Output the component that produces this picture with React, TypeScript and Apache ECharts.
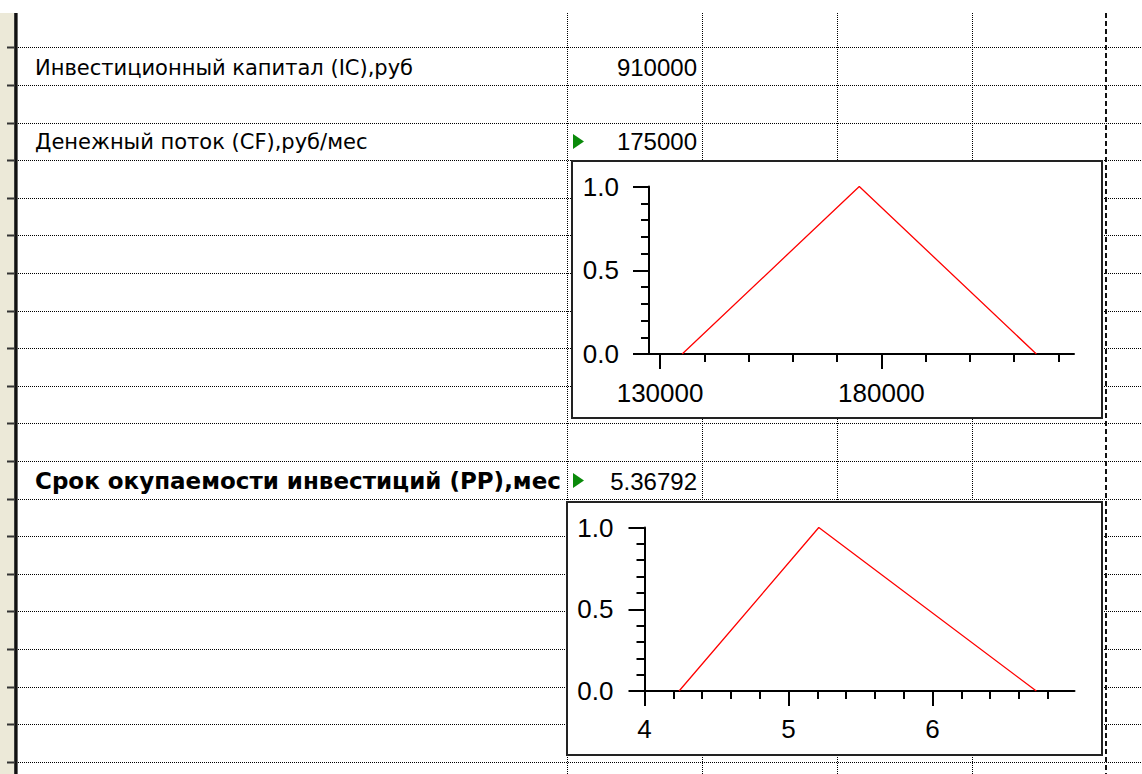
import React, { useEffect, useRef } from "react";
import * as echarts from "echarts";

// ---- data ----
const ROW_LABELS = [
  "Инвестиционный капитал (IC),руб",
  "Денежный поток (CF),руб/мес",
  "Срок окупаемости инвестиций (PP),мес",
];
const ROW_VALUES = ["910000", "175000", "5.36792"];

const CF_X = [135000, 175000, 215000];
const CF_MU = [0, 1, 0];
const CF_MAJOR = [130000, 180000];
const CF_MINOR = [140000, 150000, 160000, 170000, 190000, 200000, 210000, 220000];

const PP_X = [4.24, 5.21, 6.72];
const PP_MU = [0, 1, 0];
const PP_MAJOR = [4, 5, 6];
const PP_MINOR = [4.2, 4.4, 4.6, 4.8, 5.2, 5.4, 5.6, 5.8, 6.2, 6.4, 6.6, 6.8];

const W = 1142;
const H = 774;
const TOP = 13;
const LABEL_FONT = "DejaVu Sans";
const NUM_FONT = "Liberation Sans";

function buildGraphic() {
  const els: any[] = [];
  const rowLines: number[] = [];
  for (let k = 0; k < 20; k++) rowLines.push(Math.round(47.3 + 37.6 * k) + 0.5);
  // beige strip
  els.push({ type: "rect", z: 0, shape: { x: 0, y: TOP, width: 14, height: H - TOP }, style: { fill: "#ECE9D8" } });
  els.push({ type: "rect", z: 0, shape: { x: 14, y: TOP, width: 4, height: H - TOP }, style: { fill: "#6b6b6b" } });
  els.push({ type: "rect", z: 0, shape: { x: 14.5, y: TOP, width: 2.5, height: H - TOP }, style: { fill: "#111" } });
  rowLines.forEach((y) => {
    els.push({ type: "line", z: 0, shape: { x1: 7, y1: y, x2: 14, y2: y }, style: { stroke: "#333", lineWidth: 2 } });
    els.push({
      type: "line", z: 0,
      shape: { x1: 18, y1: y, x2: W, y2: y },
      style: { stroke: "#000", lineWidth: 1, lineDash: [1, 1] },
    });
  });
  [567.5, 702.5, 837.5, 972.5].forEach((x) => {
    els.push({
      type: "line", z: 0,
      shape: { x1: x, y1: TOP, x2: x, y2: H },
      style: { stroke: "#000", lineWidth: 1, lineDash: [1, 1] },
    });
  });
  // page break dashed line
  els.push({
    type: "line", z: 0,
    shape: { x1: 1106, y1: TOP, x2: 1106, y2: H },
    style: { stroke: "#111", lineWidth: 2, lineDash: [5, 3] },
  });
  // chart boxes
  els.push({ type: "rect", z: 1, shape: { x: 572, y: 161, width: 530, height: 257 }, style: { fill: "#fff", stroke: "#222", lineWidth: 2 } });
  els.push({ type: "rect", z: 1, shape: { x: 567, y: 502, width: 535, height: 253 }, style: { fill: "#fff", stroke: "#222", lineWidth: 2 } });

  const rowCenters = [67.5, 141.5, 481];
  ROW_LABELS.forEach((t, i) => {
    els.push({
      type: "text", z: 5, x: 35, y: rowCenters[i],
      style: {
        text: t, fill: "#000", font: (i === 2 ? "bold 23px '" : "21px '") + LABEL_FONT + "'",
        textAlign: "left", textVerticalAlign: "middle", verticalAlign: "middle",
      },
    });
  });
  ROW_VALUES.forEach((t, i) => {
    els.push({
      type: "text", z: 5, x: 697, y: rowCenters[i],
      style: {
        text: t, fill: "#000", font: "24px '" + NUM_FONT + "'",
        textAlign: "right", textVerticalAlign: "middle", verticalAlign: "middle",
      },
    });
  });
  // green markers
  [141.5, 480.5].forEach((cy) => {
    els.push({
      type: "polygon", z: 5,
      shape: { points: [[573, cy - 7.5], [584, cy], [573, cy + 7.5]] },
      style: { fill: "#0a8a0a" },
    });
  });
  return els;
}

const axisText = { color: "#000", fontSize: 26, fontFamily: NUM_FONT };
const blk = { color: "#000", width: 2 };

function yAxis(grid: number, margin: number) {
  return {
    type: "value", gridIndex: grid, min: 0, max: 1, interval: 0.5, z: 3,
    axisLine: { show: true, lineStyle: blk },
    axisTick: { show: true, length: 16, lineStyle: blk },
    minorTick: { show: true, splitNumber: 5, length: 8, lineStyle: blk },
    splitLine: { show: false },
    axisLabel: { ...axisText, margin, formatter: (v: number) => v.toFixed(1) },
  };
}

function xMajor(grid: number, min: number, max: number, vals: number[], margin: number) {
  return {
    type: "value", gridIndex: grid, min, max, position: "bottom", offset: 0, z: 3,
    axisLine: { show: true, onZero: false, lineStyle: blk },
    axisTick: { show: true, length: 15, lineStyle: blk, customValues: vals },
    splitLine: { show: false },
    axisLabel: { ...axisText, margin, customValues: vals, formatter: (v: number) => String(v) },
  };
}

function xMinor(grid: number, min: number, max: number, vals: number[]) {
  return {
    type: "value", gridIndex: grid, min, max, position: "bottom", offset: 0, z: 3,
    axisLine: { show: false, onZero: false },
    axisTick: { show: true, length: 8, lineStyle: blk, customValues: vals },
    splitLine: { show: false },
    axisLabel: { show: false },
  };
}

export default function App() {
  const ref = useRef<HTMLDivElement>(null);
  useEffect(() => {
    if (!ref.current) return;
    const chart = echarts.init(ref.current, null, { renderer: "svg" });
    chart.setOption({
      animation: false,
      backgroundColor: "#fff",
      grid: [
        { left: 649, top: 186.5, width: 425, height: 167.5 },
        { left: 644.5, top: 527.5, width: 430, height: 163.5 },
      ],
      xAxis: [
        xMajor(0, 127500, 223500, CF_MAJOR, 26),
        xMinor(0, 127500, 223500, CF_MINOR),
        xMajor(1, 4, 6.985, PP_MAJOR, 25),
        xMinor(1, 4, 6.985, PP_MINOR),
      ],
      yAxis: [yAxis(0, 30), yAxis(1, 31)],
      series: [
        {
          type: "line", xAxisIndex: 0, yAxisIndex: 0, z: 4,
          data: CF_X.map((x, i) => [x, CF_MU[i]]),
          showSymbol: false, symbol: "none",
          lineStyle: { color: "#ff0000", width: 1.3 },
        },
        {
          type: "line", xAxisIndex: 2, yAxisIndex: 1, z: 4,
          data: PP_X.map((x, i) => [x, PP_MU[i]]),
          showSymbol: false, symbol: "none",
          lineStyle: { color: "#ff0000", width: 1.3 },
        },
      ],
      graphic: buildGraphic(),
    });
    return () => chart.dispose();
  }, []);
  return (
    <div
      ref={ref}
      style={{ position: "absolute", left: 0, top: 0, width: W, height: H }}
    />
  );
}
